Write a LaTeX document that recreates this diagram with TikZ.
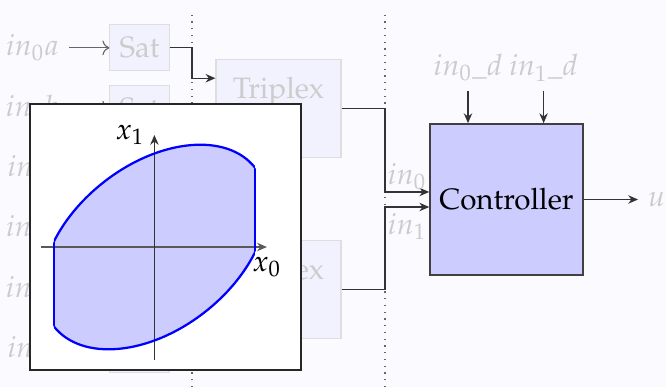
\documentclass[tikz,border=0pt]{standalone}
\usepackage{amsmath,amssymb}
\usepackage[T1]{fontenc}
\usepackage{mathpazo}
\usepackage{tikz}
\usetikzlibrary{arrows.meta,positioning,calc}
\colorlet{cbg}{blue!2}
\colorlet{cfade}{black!20}
\colorlet{cbox}{blue!5}
\colorlet{cedge}{black!13}
\colorlet{cctrl}{blue!20}
\colorlet{cset}{blue}
\tikzset{
  satbox/.style={draw=cedge, fill=cbox, text=cfade, minimum width=0.74cm, minimum height=0.575cm, inner sep=0pt},
  tribox/.style={draw=cedge, fill=cbox, minimum width=1.5625cm, minimum height=1.225cm, inner sep=0pt},
  faded/.style={text=cfade},
  wire/.style={draw=black!80, -{Stealth[length=3.5pt,width=3pt]}},
  feed/.style={draw=black!60, ->},
}

\begin{document}
\begin{tikzpicture}[every node/.append style={font=\fontsize{10.5}{12.6}\selectfont}]
\useasboundingbox (0,0) rectangle (8.325,4.8375);
\fill[cbg] (0,0) rectangle (8.325,4.8375);
\coordinate (cut) at (2.4,0);
\coordinate (bus) at (4.8125,0);
\draw[dotted, black!60] (cut) -- ++(0,4.71);
\draw[dotted, black!60] (bus) -- ++(0,4.71);
% inputs and saturations
\node[faded, anchor=east] (l0a) at (0.86,4.24) {$in_0a$};
\node[faded, anchor=east] (l0b) at (0.86,3.485) {$in_0b$};
\node[faded, anchor=east] (l0c) at (0.86,2.73) {$in_0c$};
\node[faded, anchor=east] (l1a) at (0.86,1.975) {$in_1a$};
\node[faded, anchor=east] (l1b) at (0.86,1.22) {$in_1b$};
\node[faded, anchor=east] (l1c) at (0.86,0.465) {$in_1c$};
\node[satbox] (s0a) at (1.744,4.24) {Sat};
\node[satbox] (s0b) at (1.744,3.485) {Sat};
\node[satbox] (s0c) at (1.744,2.73) {Sat};
\node[satbox] (s1a) at (1.744,1.975) {Sat};
\node[satbox] (s1b) at (1.744,1.22) {Sat};
\node[satbox] (s1c) at (1.744,0.465) {Sat};
\draw[feed] (l0a) -- (s0a);
\draw[feed] (l0b) -- (s0b);
\draw[feed] (l0c) -- (s0c);
\draw[feed] (l1a) -- (s1a);
\draw[feed] (l1b) -- (s1b);
\draw[feed] (l1c) -- (s1c);
% voters
\node[tribox, label={[faded, anchor=north, yshift=-0.11cm]north:Triplex}] (tri0) at (3.481,3.485) {};
\node[tribox, label={[faded, anchor=north, yshift=-0.11cm]north:Triplex}] (tri1) at (3.481,1.22) {};
\draw[wire] (s0a.east) -- (s0a.east -| cut) |- ($(tri0.west)+(0,0.375)$);
\draw[wire] (s0b.east) -- (tri0.west);
\draw[wire] (s0c.east) -- (s0c.east -| cut) |- ($(tri0.west)+(0,-0.375)$);
\draw[wire] (s1a.east) -- (s1a.east -| cut) |- ($(tri1.west)+(0,0.375)$);
\draw[wire] (s1b.east) -- (tri1.west);
\draw[wire] (s1c.east) -- (s1c.east -| cut) |- ($(tri1.west)+(0,-0.375)$);
% controller
\node[draw=black!75, line width=0.6pt, fill=cctrl, minimum width=1.9cm, minimum height=1.8875cm] (ctrl) at (6.331,2.344) {Controller};
\draw[wire] (tri0.east) -- (tri0.east -| bus) |- node[pos=0.75, above, inner sep=0.5pt, faded] (lin0) {$in_0$} ($(ctrl.west)+(0,0.094)$);
\draw[wire] (tri1.east) -- (tri1.east -| bus) |- node[pos=0.75, below, inner sep=2pt, faded] (lin1) {$in_1$} ($(ctrl.west)+(0,-0.094)$);
\node[faded] (d0) at (5.85,3.99) {$in_0\_d$};
\node[faded] (d1) at (6.795,3.99) {$in_1\_d$};
\draw[wire] (d0) -- (d0 |- ctrl.north);
\draw[wire] (d1) -- (d1 |- ctrl.north);
\node[faded, anchor=west] (u) at (7.975,2.344) {$u$};
\draw[wire] (ctrl.east) -- (u.west);
% invariant set inset
\draw[black!85, fill=white] (0.375,0.2125) rectangle (3.7625,3.5375);
\begin{scope}[shift={(1.93,1.75)}]
  \begin{scope}
    \clip (-1.256,-1.7) rectangle (1.256,1.7);
    \fill[cctrl] (0,0) ellipse[x radius=1.602, y radius=1.029, rotate=38.2];
  \end{scope}
  \draw[black!65, -{Stealth[length=3.5pt,width=3pt]}] (-1.419,0) -- (1.406,0) node[below, text=black] (lx0) {$x_0$};
  \draw[black!80, -{Stealth[length=3.5pt,width=3pt]}] (0,-1.4125) -- (0,1.4) node[left, text=black] (lx1) {$x_1$};
  \begin{scope}
    \clip (-1.256,-1.7) rectangle (1.256,1.7);
    \draw[cset, thick] (0,0) ellipse[x radius=1.602, y radius=1.029, rotate=38.2];
  \end{scope}
  \begin{scope}
    \clip (0,0) ellipse[x radius=1.602, y radius=1.029, rotate=38.2];
    \draw[cset, thick] (-1.256,-1.7) -- (-1.256,1.7) (1.256,-1.7) -- (1.256,1.7);
  \end{scope}
\end{scope}
\end{tikzpicture}
\end{document}
